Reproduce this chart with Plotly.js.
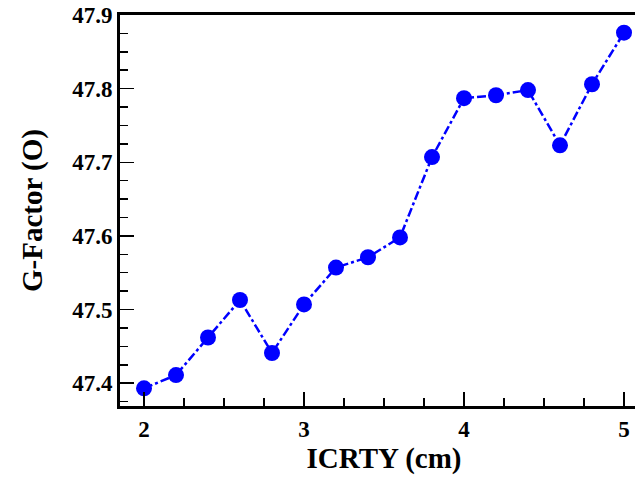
<!DOCTYPE html>
<html>
<head>
<meta charset="utf-8">
<script src="https://cdn.plot.ly/plotly-3.0.1.min.js"></script>
<style>
  html, body { margin: 0; padding: 0; overflow: hidden; background: #fff; }
  #chart { width: 650px; height: 480px; }
</style>
</head>
<body>
<div id="chart"></div>
<script>
// ICRTY position (cm) against measured G-Factor
const icrty = [2.0, 2.2, 2.4, 2.6, 2.8, 3.0, 3.2, 3.4, 3.6, 3.8, 4.0, 4.2, 4.4, 4.6, 4.8, 5.0];
const gFactor = [47.393, 47.411, 47.462, 47.513, 47.441, 47.507, 47.557, 47.571, 47.598, 47.707,
                 47.787, 47.791, 47.798, 47.723, 47.806, 47.876];

const xTickVals = [2, 3, 4, 5];
const yTickVals = [47.4, 47.5, 47.6, 47.7, 47.8, 47.9];

const serif = "Liberation Serif";

const trace = {
  x: icrty,
  y: gFactor,
  type: "scatter",
  mode: "lines+markers",
  line: { color: "#0000FF", width: 2.5, dash: "dashdot" },
  marker: { color: "#0000FF", size: 16, symbol: "circle" },
  cliponaxis: false,
  hoverinfo: "skip"
};

function tickFont() {
  return { family: serif, size: 23, color: "#000000", weight: 700 };
}
function titleFont() {
  return { family: serif, size: 29, color: "#000000", weight: 700 };
}

const layout = {
  width: 650,
  height: 480,
  margin: { l: 120, r: 2, t: 15, b: 74 },
  paper_bgcolor: "#fff",
  plot_bgcolor: "#fff",
  showlegend: false,
  font: { family: serif, color: "#000000" },
  xaxis: {
    showgrid: false, zeroline: false, showline: true,
    linecolor: "#000", linewidth: 3, mirror: true,
    ticks: "inside", ticklen: 14, tickwidth: 1.5, tickcolor: "#000",
    tickfont: tickFont(),
    range: [1.85, 5.15],
    tickvals: xTickVals,
    ticktext: xTickVals.map(String),
    minor: { dtick: 0.25, tick0: 2, ticks: "inside", ticklen: 8, tickwidth: 1.5, tickcolor: "#000" },
    title: { text: "ICRTY (cm)", font: titleFont(), standoff: 6 }
  },
  yaxis: {
    showgrid: false, zeroline: false, showline: true,
    linecolor: "#000", linewidth: 3, mirror: true,
    ticks: "inside", ticklen: 14, tickwidth: 1.5, tickcolor: "#000",
    tickfont: tickFont(),
    range: [47.369, 47.9],
    tickvals: yTickVals,
    ticktext: yTickVals.map(v => v.toFixed(1)),
    minor: { dtick: 0.025, tick0: 47.4, ticks: "inside", ticklen: 8, tickwidth: 1.5, tickcolor: "#000" },
    title: { text: "G-Factor (O)", font: titleFont(), standoff: 22 }
  }
};

Plotly.newPlot("chart", [trace], layout, { displayModeBar: false, staticPlot: true });
</script>
</body>
</html>
